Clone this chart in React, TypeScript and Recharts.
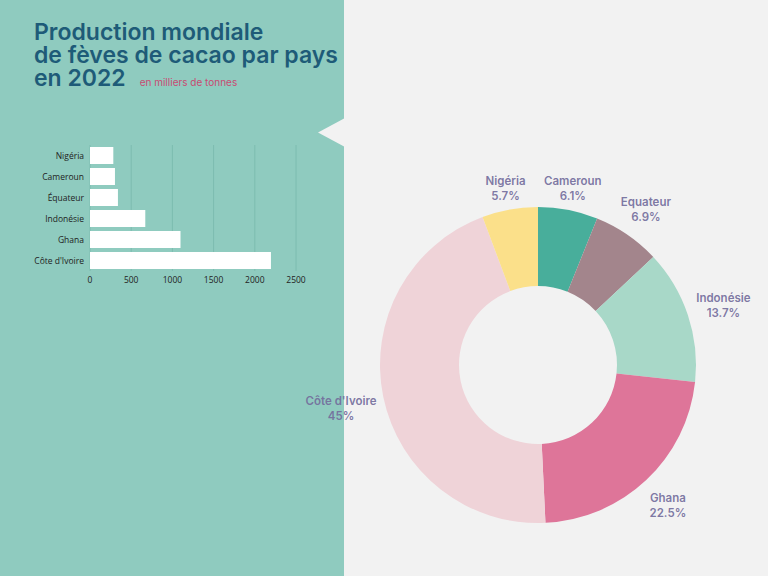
import { Bar, BarChart, CartesianGrid, Cell, Pie, PieChart, XAxis, YAxis } from 'recharts';

const pays = ['Nigéria', 'Cameroun', 'Équateur', 'Indonésie', 'Ghana', "Côte d'Ivoire"];
const production = [283, 303, 339, 671, 1098, 2196];
const ticksX = [0, 500, 1000, 1500, 2000, 2500];

const partsNoms = ['Cameroun', 'Equateur', 'Indonésie', 'Ghana', "Côte d'Ivoire", 'Nigéria'];
const partsValeurs = [6.1, 6.9, 13.7, 22.5, 45, 5.7];
const partsCouleurs = ['#48ae9b', '#a3858c', '#a8d8c8', '#de7599', '#efd3d8', '#fbe08a'];

const barData = pays.map((p, i) => ({ pays: p, valeur: production[i] }));
const pieData = partsNoms.map((n, i) => ({ nom: n, part: partsValeurs[i] }));

const RAD = Math.PI / 180;

function PieLabel(props: any) {
  const { cx, cy, midAngle, outerRadius, payload } = props;
  const nom = payload.nom;
  const cos = Math.cos(-midAngle * RAD);
  const sin = Math.sin(-midAngle * RAD);
  const w = nom.length * 6.5;
  const r = outerRadius + 20 + Math.abs(cos) * w * 0.25 + Math.abs(cos * sin) * 12;
  const x = cx + r * cos;
  const y = cy + r * sin;
  return (
    <text
      x={x}
      y={y}
      textAnchor='middle'
      fill='#736d9c'
      fillOpacity={0.92}
      fontFamily='Inter, sans-serif'
      fontWeight={600}
      fontSize={11.5}
    >
      <tspan x={x} dy={-1}>{nom}</tspan>
      <tspan x={x} dy={15}>{`${payload.part}%`}</tspan>
    </text>
  );
}

export default function App() {
  return (
    <div
      style={{
        position: 'absolute',
        left: 0,
        top: 0,
        width: 768,
        height: 576,
        background: '#f2f2f2',
        overflow: 'hidden',
        fontFamily: 'Inter, sans-serif',
      }}
    >
      <div style={{ position: 'absolute', left: 0, top: 0, width: 344, height: 576, background: '#8fcbbf' }} />
      <svg style={{ position: 'absolute', left: 0, top: 0 }} width={768} height={576}>
        <polygon points='318,132.5 345,118 345,147' fill='#f2f2f2' />
      </svg>
      <div
        style={{
          position: 'absolute',
          left: 34,
          top: 21,
          color: '#1e5b78',
          fontWeight: 600,
          fontSize: 23,
          lineHeight: '23px',
          whiteSpace: 'nowrap',
        }}
      >
        Production mondiale
        <br />
        de fèves de cacao par pays
        <br />
        en 2022
        <span style={{ fontSize: 10, fontWeight: 400, color: '#c94a72', marginLeft: 14 }}>
          en milliers de tonnes
        </span>
      </div>
      <div style={{ position: 'absolute', left: 0, top: 140 }}>
        <BarChart
          width={320}
          height={154}
          data={barData}
          layout='vertical'
          margin={{ top: 5, right: 24, bottom: 5, left: 0 }}
          barCategoryGap={2}
        >
          <CartesianGrid horizontal={false} stroke='#7dbcb0' />
          <XAxis
            type='number'
            domain={[0, 2500]}
            ticks={ticksX}
            axisLine={false}
            tickLine={false}
            tickMargin={0}
            tick={{ fontSize: 8.5, fill: '#222', fontFamily: 'Open Sans, sans-serif' }}
            height={18}
          />
          <YAxis
            type='category'
            dataKey='pays'
            width={90}
            axisLine={false}
            tickLine={false}
            tickSize={4}
            tickMargin={2}
            tick={{ fontSize: 8.5, fill: '#222', fontFamily: 'Open Sans, sans-serif' }}
            interval={0}
          />
          <Bar dataKey='valeur' fill='#ffffff' isAnimationActive={false} />
        </BarChart>
      </div>
      <div style={{ position: 'absolute', left: 0, top: 0 }}>
        <PieChart width={768} height={576} margin={{ top: 0, right: 0, bottom: 0, left: 0 }}>
          <Pie
            data={pieData}
            dataKey='part'
            nameKey='nom'
            cx={538}
            cy={365}
            innerRadius={79}
            outerRadius={158}
            startAngle={90}
            endAngle={-270}
            stroke='none'
            label={PieLabel}
            labelLine={false}
            isAnimationActive={false}
          >
            {pieData.map((d, i) => (
              <Cell key={`part-${d.nom}`} fill={partsCouleurs[i]} />
            ))}
          </Pie>
        </PieChart>
      </div>
    </div>
  );
}
